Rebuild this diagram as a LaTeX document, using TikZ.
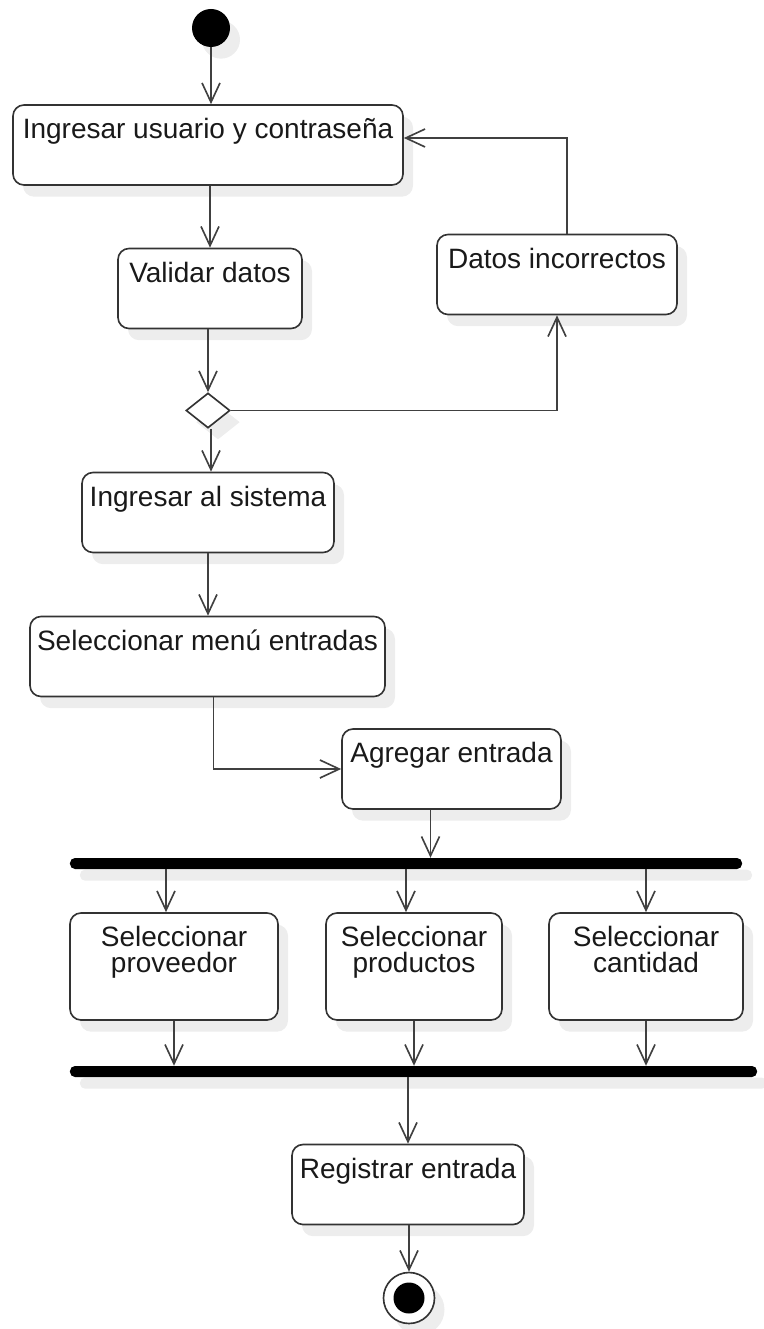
\documentclass[tikz,border=0pt]{standalone}
\usepackage{fontspec}
\setmainfont{Liberation Sans}
\usetikzlibrary{positioning, shapes.geometric, shadows, arrows.meta, calc}

\begin{document}
\begin{tikzpicture}[x=0.03cm, y=-0.03cm,
ghost/.style={drop shadow={shadow xshift=0.3cm, shadow yshift=-0.35cm, fill=black!7, opacity=1}},
act/.style={draw=black!80, line width=1.4pt, fill=white, rounded corners=0.33cm, minimum height=2.4cm, inner sep=0pt, ghost},
txt/.style={anchor=north, yshift=-0.42cm, inner sep=0pt, align=center, text=black!90, font=\fontsize{23.9}{22.2}\selectfont},
bar/.style={fill=black, rounded corners=0.15cm, minimum height=0.33cm, inner sep=0pt, ghost},
flow/.style={draw=black!75, line width=1.4pt, -{Straight Barb[length=0.58cm, width=0.54cm]}}
]
\useasboundingbox (0,0) rectangle (764,1329);

% states
\node[circle, fill=black, minimum size=1.14cm, inner sep=0pt, ghost] (start) at (211,28) {};
\node[act, minimum width=11.7cm, label={[txt]north:Ingresar usuario y contraseña}] (login) at (208,145) {};
\node[act, minimum width=5.52cm, label={[txt]north:Validar datos}] (validar) at (210,288.5) {};
\node[act, minimum width=7.2cm, label={[txt]north:Datos incorrectos}] (datos) at (557,274.5) {};
\node[diamond, draw=black!80, line width=1.4pt, fill=white, minimum width=1.32cm, minimum height=1.05cm, inner sep=0pt, ghost] (check) at (208,410.5) {};
\node[act, minimum width=7.56cm, label={[txt]north:Ingresar al sistema}] (sistema) at (208,512.5) {};
\node[act, minimum width=10.65cm, label={[txt]north:Seleccionar menú entradas}] (menu) at (207.5,656.5) {};
\node[act, minimum width=6.57cm, label={[txt]north:Agregar entrada}] (agregar) at (451.5,769) {};
\node[bar, minimum width=20.16cm] (fork) at (406,863.5) {};
\node[act, minimum width=6.24cm, minimum height=3.21cm, label={[txt]north:{Seleccionar\\proveedor}}] (prov) at (174,966.5) {};
\node[act, minimum width=5.28cm, minimum height=3.21cm, label={[txt]north:{Seleccionar\\productos}}] (prod) at (414,966.5) {};
\node[act, minimum width=5.82cm, minimum height=3.21cm, label={[txt]north:{Seleccionar\\cantidad}}] (cant) at (646,966.5) {};
\node[bar, minimum width=20.61cm] (join) at (413.5,1071.5) {};
\node[act, minimum width=6.96cm, label={[txt]north:Registrar entrada}] (registrar) at (408,1184.5) {};
\node[circle, draw=black!80, line width=1.4pt, fill=white, minimum size=1.53cm, inner sep=0pt, ghost,
  path picture={\fill[black] (path picture bounding box.center) circle (0.465cm);}] (stop) at (409,1298) {};

% transitions
\draw[flow] (start.south) -- (start.south |- login.north);
\draw[flow] (login.south -| validar.north) -- (validar.north);
\draw[flow] (validar.south -| check.north) -- (check.north);
\draw[flow] (check.east) -| (datos.south);
\draw[flow] ($(datos.north)+(10,0)$) |- ($(login.east)+(0,-7)$);
\draw[flow] ($(check.south)+(3,0)$) coordinate (ok) -- (ok |- sistema.north);
\draw[flow] (sistema.south) -- (sistema.south |- menu.north);
\draw[flow] ($(menu.south)+(6,0)$) |- (agregar.west);
\draw[flow] ($(agregar.south)+(-21,0)$) coordinate (add) -- (add |- fork.north);

\coordinate (inprov) at ($(prov.north)+(-8,0)$);
\coordinate (inprod) at ($(prod.north)+(-8,0)$);
\draw[flow] (fork.south -| inprov) -- (inprov);
\draw[flow] (fork.south -| inprod) -- (inprod);
\draw[flow] (fork.south -| cant.north) -- (cant.north);
\draw[flow] (prov.south) -- (prov.south |- join.north);
\draw[flow] (prod.south) -- (prod.south |- join.north);
\draw[flow] (cant.south) -- (cant.south |- join.north);
\draw[flow] (join.south -| registrar.north) -- (registrar.north);
\draw[flow] (registrar.south -| stop.north) -- (stop.north);
\end{tikzpicture}
\end{document}
